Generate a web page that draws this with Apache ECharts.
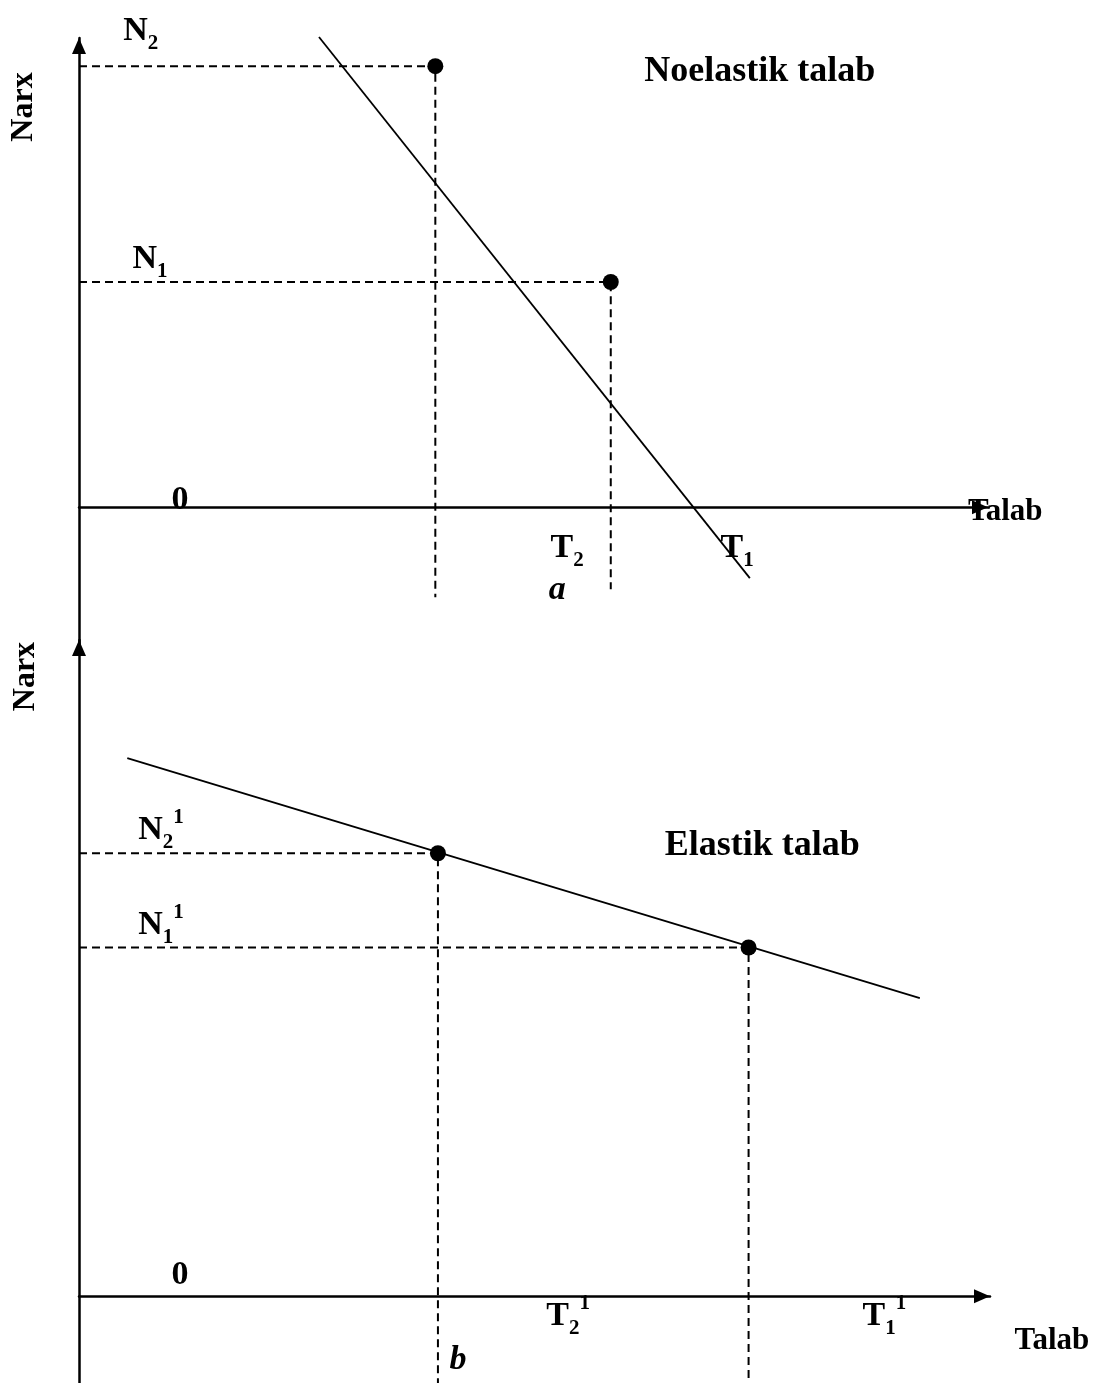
<!DOCTYPE html>
<html><head><meta charset="utf-8">
<script src="https://cdn.jsdelivr.net/npm/echarts@6/dist/echarts.min.js"></script>
<style>html,body{margin:0;padding:0;background:#fff}#c{width:1096px;height:1383px}</style>
</head><body><div id="c"></div>
<script>
// ---------- DATA (axis units: quantity 0..10, price) ----------
// Panel a: inelastic demand (Noelastik talab)
const inelasticDemand = [[2.64, 10.02], [7.38, -1.51]];
const inelasticPoints = [[3.92, 9.40], [5.85, 4.80]];   // (quantity, price) for N2 and N1
const inelasticGuideBottom = [-1.92, -1.75];
// Panel b: elastic demand (Elastik talab)
const elasticDemand = [[0.53, 11.48], [9.23, 6.36]];
const elasticPoints = [[3.94, 9.45], [7.35, 7.44]];     // N2^1 and N1^1
const elasticGuideBottom = [-2, -2];

// Annotation texts and their anchors in axis units
const topTexts = ['{m|N}{sub|2}', '{m|N}{sub|1}', '{m|0}', '{m|T}{sub|2}', '{m|T}{sub|1}', '{it|a}', '{ax|Talab}', '{t|Noelastik talab}'];
const topAnchors = [[0.68, 10.15], [0.78, 5.29], [1.11, 0.15], [5.37, -0.87], [7.24, -0.87], [5.26, -1.77], [10.19, -0.11], [7.49, 9.28]];
const bottomTexts = ['{m|N}{sub|2}{sup|1}', '{m|N}{sub|1}{sup|1}', '{m|0}', '{m|T}{sub|2}{sup|1}', '{m|T}{sub|1}{sup|1}', '{it|b}', '{ax|Talab}', '{t|Elastik talab}'];
const bottomAnchors = [[0.90, 9.94], [0.90, 7.91], [1.11, 0.45], [5.37, -0.43], [8.84, -0.43], [4.16, -1.37], [10.68, -0.96], [7.50, 9.62]];
const yAxisTitle = 'Narx';
const yTitleAnchors = [[-0.61, 8.53], [-0.59, 13.22]];

// ---------- CHART ----------
const FONT = '"Liberation Serif", "Times New Roman", serif';
const rich = {
  m:   {fontFamily: FONT, fontSize: 34, fontWeight: 'bold', color: '#000', lineHeight: 46},
  sub: {fontFamily: FONT, fontSize: 21, fontWeight: 'bold', color: '#000', lineHeight: 29, verticalAlign: 'bottom'},
  sup: {fontFamily: FONT, fontSize: 21, fontWeight: 'bold', color: '#000', lineHeight: 29, verticalAlign: 'top'},
  it:  {fontFamily: FONT, fontSize: 34, fontWeight: 'bold', fontStyle: 'italic', color: '#000', lineHeight: 46},
  ax:  {fontFamily: FONT, fontSize: 31, fontWeight: 'bold', color: '#000', lineHeight: 46},
  t:   {fontFamily: FONT, fontSize: 36, fontWeight: 'bold', color: '#000', lineHeight: 46}
};

const chart = echarts.init(document.getElementById('c'), null, {renderer: 'canvas'});

function axisX(gi) {
  return {
    type: 'value', gridIndex: gi, min: 0, max: 10,
    axisLine: {show: true, onZero: true, symbol: ['none', 'triangle'], symbolSize: [14, 16], symbolOffset: [0, -8],
               lineStyle: {color: '#000', width: 2.5}},
    axisTick: {show: false}, axisLabel: {show: false}, splitLine: {show: false}
  };
}
function axisY(gi, mn, mx) {
  return {
    type: 'value', gridIndex: gi, min: mn, max: mx,
    axisLine: {show: true, onZero: true, symbol: ['none', 'triangle'], symbolSize: [14, 16], symbolOffset: [0, -8],
               lineStyle: {color: '#000', width: 2.5}},
    axisTick: {show: false}, axisLabel: {show: false}, splitLine: {show: false}
  };
}
function demand(data, gi) {
  return {type: 'line', xAxisIndex: gi, yAxisIndex: gi, data: data, symbol: 'none', clip: false, silent: true,
          lineStyle: {color: '#000', width: 1.8, opacity: 1}};
}
function guide(pt, yEnd, gi) {
  return {type: 'line', xAxisIndex: gi, yAxisIndex: gi, data: [[0, pt[1]], [pt[0], pt[1]], [pt[0], yEnd]],
          symbol: 'none', clip: false, silent: true, lineStyle: {color: '#000', width: 2, type: [8, 5], opacity: 1}};
}
function dots(data, gi) {
  return {type: 'scatter', xAxisIndex: gi, yAxisIndex: gi, data: data, symbol: 'circle', symbolSize: 16,
          clip: false, silent: true, itemStyle: {color: '#000', opacity: 1}, z: 5};
}
function texts(list, anchors, gi) {
  return {type: 'scatter', xAxisIndex: gi, yAxisIndex: gi, symbolSize: 0, clip: false, silent: true, z: 6,
          itemStyle: {opacity: 1, color: '#000'},
          data: anchors.map((a, i) => ({value: a, label: {formatter: list[i]}})),
          label: {show: true, position: 'inside', align: 'center', verticalAlign: 'middle', color: '#000',
                  opacity: 1, textBorderWidth: 0, rich: rich}};
}
function yTitle(anchor, gi) {
  return {type: 'scatter', xAxisIndex: gi, yAxisIndex: gi, symbolSize: 0, clip: false, silent: true,
          itemStyle: {opacity: 1, color: '#000'},
          data: [{value: anchor}],
          label: {show: true, position: 'inside', rotate: 90, formatter: yAxisTitle, opacity: 1, textBorderWidth: 0,
                  fontFamily: FONT, fontSize: 32, fontWeight: 'bold', color: '#000'}};
}

const series = [
  demand(inelasticDemand, 0),
  guide(inelasticPoints[0], inelasticGuideBottom[0], 0),
  guide(inelasticPoints[1], inelasticGuideBottom[1], 0),
  dots(inelasticPoints, 0),
  texts(topTexts, topAnchors, 0),
  yTitle(yTitleAnchors[0], 0),
  demand(elasticDemand, 1),
  guide(elasticPoints[0], elasticGuideBottom[0], 1),
  guide(elasticPoints[1], elasticGuideBottom[1], 1),
  dots(elasticPoints, 1),
  texts(bottomTexts, bottomAnchors, 1),
  yTitle(yTitleAnchors[1], 1)
];

chart.setOption({
  animation: false,
  backgroundColor: '#fff',
  grid: [
    {left: 79, top: 38, width: 909, height: 610, outerBoundsMode: 'none', containLabel: false},
    {left: 79, top: 640, width: 911, height: 750, outerBoundsMode: 'none', containLabel: false}
  ],
  xAxis: [axisX(0), axisX(1)],
  yAxis: [axisY(0, -3, 10), axisY(1, -2, 14)],
  series: series
});
</script>
</body></html>
